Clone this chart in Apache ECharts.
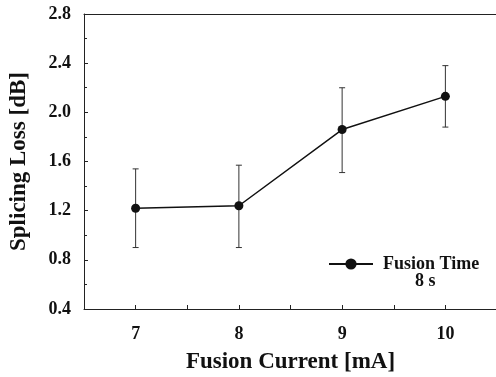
<!DOCTYPE html>
<html>
<head>
<meta charset="utf-8">
<script src="https://cdn.jsdelivr.net/npm/echarts@6/dist/echarts.min.js"></script>
<style>html,body{margin:0;padding:0;background:#fff;}#c{width:496px;height:377px;}</style>
</head>
<body>
<div id="c"></div>
<script>
var currents = [7, 8, 9, 10];
var loss = [1.22, 1.24, 1.86, 2.13];
var errLow = [0.90, 0.90, 1.51, 1.88];
var errHigh = [1.54, 1.57, 2.20, 2.38];
var xTickLabels = [7, 8, 9, 10];
var yTickLabels = [0.4, 0.8, 1.2, 1.6, 2.0, 2.4, 2.8];
var seriesName = 'Fusion Time';
var seriesSub = '8 s';

var FONT = '"Liberation Serif", "Times New Roman", serif';
var chart = echarts.init(document.getElementById('c'));

var lineData = currents.map(function (c, i) { return [c, loss[i]]; });
var errData = currents.map(function (c, i) { return [c, errLow[i], errHigh[i]]; });

chart.setOption({
  animation: false,
  backgroundColor: '#fff',
  grid: { left: 84, top: 14, width: 413, height: 295, containLabel: false, outerBoundsMode: 'none' },
  legend: {
    data: [seriesName],
    left: 328, top: 255, padding: 0,
    itemWidth: 44, itemHeight: 14,
    textStyle: { fontFamily: FONT, fontWeight: 'bold', fontSize: 18, color: '#111', padding: [0, 0, 0, 5] }
  },
  graphic: [{
    type: 'text', left: 415, top: 272,
    style: { text: seriesSub, font: 'bold 18px ' + FONT, fill: '#111' }
  }],
  xAxis: [{
    type: 'value', min: 6.5, max: 10.5, interval: 0.5,
    name: 'Fusion Current [mA]', nameLocation: 'middle', nameGap: 42,
    nameTextStyle: { fontFamily: FONT, fontWeight: 'bold', fontSize: 23, color: '#111' },
    axisLine: { show: true, lineStyle: { color: '#222', width: 1 } },
    axisTick: { show: true, inside: true, length: 4, lineStyle: { color: '#222' } },
    axisLabel: {
      margin: 16, fontFamily: FONT, fontWeight: 'bold', fontSize: 18, color: '#111',
      formatter: function (v) { return xTickLabels.indexOf(v) >= 0 ? String(v) : ''; }
    },
    splitLine: { show: false }
  }, {
    type: 'value', position: 'top', min: 6.5, max: 10.5,
    axisLine: { show: true, onZero: false, lineStyle: { color: '#222', width: 1 } },
    axisTick: { show: false }, axisLabel: { show: false }, splitLine: { show: false }
  }],
  yAxis: {
    type: 'value', min: 0.4, max: 2.8, interval: 0.4,
    name: 'Splicing Loss [dB]', nameLocation: 'middle', nameGap: 53, nameRotate: 90,
    nameTextStyle: { fontFamily: FONT, fontWeight: 'bold', fontSize: 23, color: '#111' },
    axisLine: { show: true, lineStyle: { color: '#222', width: 1 } },
    axisTick: { show: true, inside: true, length: 4, lineStyle: { color: '#222' } },
    minorTick: { show: true, splitNumber: 2, length: 3, lineStyle: { color: '#222' } },
    axisLabel: {
      margin: 13, fontFamily: FONT, fontWeight: 'bold', fontSize: 18, color: '#111',
      formatter: function (v) {
        for (var i = 0; i < yTickLabels.length; i++) if (Math.abs(yTickLabels[i] - v) < 1e-6) return yTickLabels[i].toFixed(1);
        return '';
      }
    },
    splitLine: { show: false }
  },
  series: [{
    type: 'custom', name: 'err', silent: true, z: 1,
    renderItem: function (params, api) {
      var x = api.value(0);
      var lo = api.coord([x, api.value(1)]);
      var hi = api.coord([x, api.value(2)]);
      var w = 3;
      var st = { stroke: '#333', lineWidth: 1 };
      return { type: 'group', children: [
        { type: 'line', shape: { x1: lo[0], y1: lo[1], x2: hi[0], y2: hi[1] }, style: st },
        { type: 'line', shape: { x1: hi[0] - w, y1: hi[1], x2: hi[0] + w, y2: hi[1] }, style: st },
        { type: 'line', shape: { x1: lo[0] - w, y1: lo[1], x2: lo[0] + w, y2: lo[1] }, style: st }
      ]};
    },
    encode: { x: 0, y: [1, 2] },
    data: errData
  }, {
    type: 'line', name: seriesName, z: 3,
    data: lineData,
    symbol: 'circle', symbolSize: 9,
    lineStyle: { color: '#111', width: 1.5 },
    itemStyle: { color: '#111' }
  }]
});
</script>
</body>
</html>
